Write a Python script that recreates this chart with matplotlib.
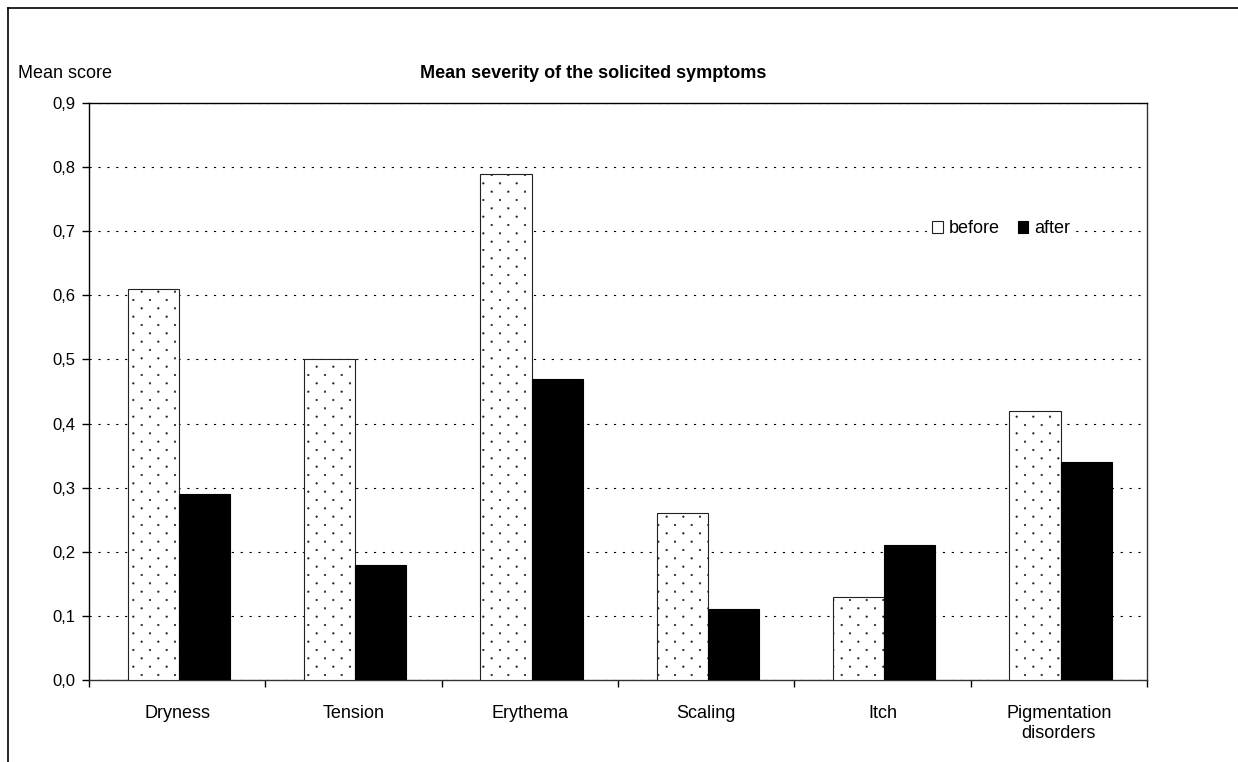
import numpy as np
import matplotlib.pyplot as plt
import matplotlib.hatch as mhatch
from matplotlib.lines import Line2D
from matplotlib.path import Path

plt.rcParams['font.family'] = ['Liberation Sans', 'DejaVu Sans']
plt.rcParams['hatch.linewidth'] = 0.4
plt.rcParams['hatch.color'] = '#222222'


# sparse staggered dot fill like the old Excel "5%" pattern
class SparseDots(mhatch.SmallFilledCircles):
    size = 0.1
    filled = True

    def __init__(self, hatch, density):
        circle = Path.unit_circle()
        self.shape_vertices = circle.vertices
        self.shape_codes = circle.codes
        self.n = 6 if '.' in hatch else 0
        self.num_rows = self.n
        if self.n == 0:
            self.num_shapes = 0
            self.num_vertices = 0
        else:
            self.num_shapes = (self.n + 1) * (self.n + 1) + self.n * self.n
            self.num_vertices = self.num_shapes * len(self.shape_vertices)

    def set_vertices_and_codes(self, vertices, codes):
        step = 1.0 / self.n
        shape = self.shape_vertices * 0.008
        vparts, cparts = [], []
        for row in range(2 * self.n + 1):
            if row % 2 == 0:
                cols = np.linspace(0, 1, self.n + 1)
            else:
                cols = np.linspace(step / 2, 1 - step / 2, self.n)
            for c in cols:
                vparts.append(shape + [c, row * step / 2])
                cparts.append(self.shape_codes)
        np.concatenate(vparts, out=vertices)
        np.concatenate(cparts, out=codes)


mhatch._hatch_types = [SparseDots if t is mhatch.SmallFilledCircles else t
                       for t in mhatch._hatch_types]

categories = ['Dryness', 'Tension', 'Erythema', 'Scaling', 'Itch', 'Pigmentation\ndisorders']
before = [0.61, 0.50, 0.79, 0.26, 0.13, 0.42]
after = [0.29, 0.18, 0.47, 0.11, 0.21, 0.34]
yticks = [0.0, 0.1, 0.2, 0.3, 0.4, 0.5, 0.6, 0.7, 0.8, 0.9]

fig = plt.figure(figsize=(12.38, 7.62), dpi=100)
ax = fig.add_axes([0.0719, 0.1076, 0.8546, 0.7572])

x = np.arange(len(categories))
w = 0.29
ax.bar(x - w / 2 + 0.01, before, w, color='white', edgecolor='#222222', hatch='.',
       linewidth=0.8, label='before', zorder=3)
ax.bar(x + w / 2 + 0.01, after, w, color='black', edgecolor='black', linewidth=0.8,
       label='after', zorder=3)

ax.set_xlim(-0.5, len(categories) - 0.5)
ax.set_ylim(0, 0.9)
ax.set_yticks(yticks)
ax.set_yticklabels([('%.1f' % v).replace('.', ',') for v in yticks])
ax.set_xticks(np.arange(len(categories) + 1) - 0.5)
ax.set_xticklabels([])
ax.set_xticks(x, minor=True)
ax.set_xticklabels(categories, minor=True)
ax.tick_params(axis='x', which='minor', length=0, pad=18, labelsize=13)
ax.tick_params(axis='x', which='major', length=5, width=1, direction='out')
ax.tick_params(axis='y', length=5, width=1, direction='out', labelsize=12, pad=5)

ax.yaxis.grid(True, color='black', linestyle=(0, (2, 6)), linewidth=0.8, zorder=0)
ax.set_axisbelow(True)
for s in ax.spines.values():
    s.set_linewidth(1.0)
    s.set_color('#333333')
ax.spines['top'].set_color('black')
ax.spines['left'].set_color('black')

leg = ax.legend(loc='center', bbox_to_anchor=(0.8086, 0.6995), bbox_transform=fig.transFigure,
                ncol=2, fontsize=13, handlelength=0.6, handleheight=0.6,
                handletextpad=0.3, columnspacing=1.0, borderpad=0.3,
                frameon=True, fancybox=False)
leg.get_frame().set_edgecolor('none')
leg.get_frame().set_facecolor('white')
leg.get_frame().set_alpha(1)
leg.legend_handles[0].set_hatch(None)

fig.text(0.0145, 0.904, 'Mean score', fontsize=13, va='center', ha='left')
fig.text(0.479, 0.904, 'Mean severity of the solicited symptoms', fontsize=13,
         fontweight='bold', va='center', ha='center')

fig.add_artist(Line2D([0.0065, 1.0], [0.9895, 0.9895], transform=fig.transFigure, color='black', linewidth=1.2))
fig.add_artist(Line2D([0.0065, 0.0065], [0.0, 0.9895], transform=fig.transFigure, color='black', linewidth=1.2))

fig.savefig('out.png', dpi=100)
